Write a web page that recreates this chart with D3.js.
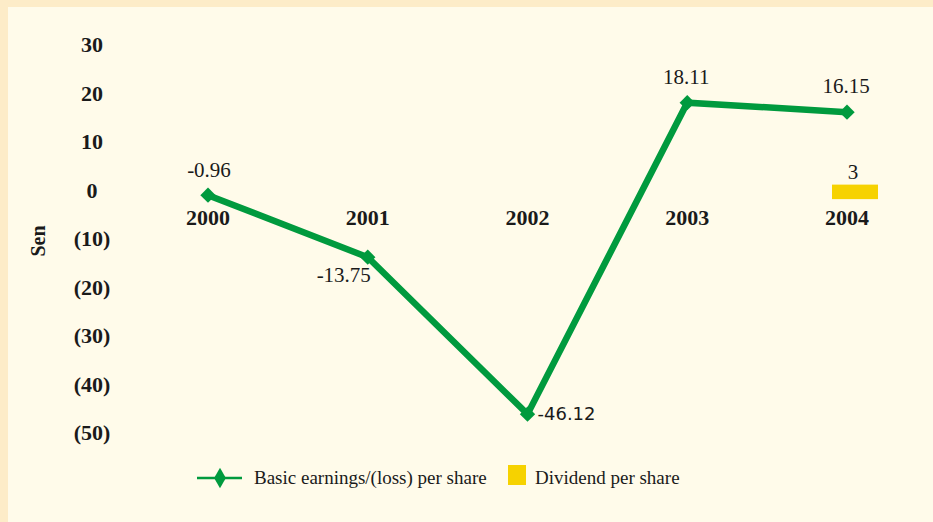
<!DOCTYPE html>
<html>
<head>
<meta charset="utf-8">
<script src="https://cdn.jsdelivr.net/npm/d3@7"></script>
<style>
  body { margin: 0; background: #fffbea; }
  text { font-family: "Liberation Serif", "DejaVu Serif", serif; fill: #1a1a1a; }
</style>
</head>
<body>
<div id="chart"></div>
<script>
const years = ["2000", "2001", "2002", "2003", "2004"];
const earnings = [-0.96, -13.75, -46.12, 18.11, 16.15];
const dividend = [null, null, null, null, 3];
const yTicks = [30, 20, 10, 0, -10, -20, -30, -40, -50];

const width = 933, height = 522;

const svg = d3.select("#chart")
    .append("svg")
    .attr("width", width)
    .attr("height", height);

// page background with the pale border on top and left
svg.append("rect").attr("width", width).attr("height", height).attr("fill", "#fdecc8");
svg.append("rect").attr("x", 8).attr("y", 7).attr("width", width - 8).attr("height", height - 7).attr("fill", "#fffbea");

const x = d3.scalePoint()
    .domain(years)
    .range([208, 847]);

const y = d3.scaleLinear()
    .domain([-50, 30])
    .range([433, 45]);

// dividend bar sits on its own baseline, a little under the line's zero
const yBar = d3.scaleLinear()
    .domain([-50, 30])
    .range([441, 54]);

// y tick labels, negatives in brackets
svg.append("g")
    .selectAll("text")
    .data(yTicks)
    .join("text")
    .attr("x", 92)
    .attr("y", d => y(d))
    .attr("dy", "0.33em")
    .attr("text-anchor", "middle")
    .style("font-size", "22px")
    .style("font-weight", "bold")
    .text(d => d < 0 ? `(${-d})` : d);

svg.append("text")
    .attr("transform", "translate(45,241) rotate(-90)")
    .attr("text-anchor", "middle")
    .style("font-size", "20px")
    .style("font-weight", "bold")
    .text("Sen");

// category labels just under zero
svg.append("g")
    .selectAll("text")
    .data(years)
    .join("text")
    .attr("x", d => x(d))
    .attr("y", y(0) + 27)
    .attr("dy", "0.33em")
    .attr("text-anchor", "middle")
    .style("font-size", "22px")
    .style("font-weight", "bold")
    .text(d => d);

// dividend bar
const divData = years.map((yr, i) => ({ year: yr, v: dividend[i] })).filter(d => d.v != null);
svg.selectAll(".bar")
    .data(divData)
    .join("rect")
    .attr("class", "bar")
    .attr("x", d => x(d.year) - 15)
    .attr("y", d => yBar(d.v))
    .attr("width", 46)
    .attr("height", d => yBar(0) - yBar(d.v))
    .attr("fill", "#f6d200");

svg.selectAll(".barlabel")
    .data(divData)
    .join("text")
    .attr("class", "barlabel")
    .attr("x", d => x(d.year) + 6)
    .attr("y", d => yBar(d.v) - 13)
    .attr("dy", "0.33em")
    .attr("text-anchor", "middle")
    .style("font-size", "21px")
    .text(d => d.v);

// earnings line
const pts = years.map((yr, i) => ({ year: yr, v: earnings[i] }));
const green = "#009a3e";

svg.append("path")
    .datum(pts)
    .attr("fill", "none")
    .attr("stroke", green)
    .attr("stroke-width", 6.5)
    .attr("stroke-linejoin", "miter")
    .attr("d", d3.line().x(d => x(d.year)).y(d => y(d.v)));

const diamond = d3.symbol().type(d3.symbolDiamond2).size(150);
svg.selectAll(".pt")
    .data(pts)
    .join("path")
    .attr("class", "pt")
    .attr("transform", d => `translate(${x(d.year)},${y(d.v)})`)
    .attr("d", diamond)
    .attr("fill", green);

// point labels, placed like the original
const labelPos = [
    { dx: 1, dy: -25, anchor: "middle", sans: false },
    { dx: -24, dy: 18, anchor: "middle", sans: false },
    { dx: 10, dy: 0, anchor: "start", sans: true },
    { dx: -1, dy: -26, anchor: "middle", sans: false },
    { dx: -1, dy: -26, anchor: "middle", sans: false }
];
svg.selectAll(".ptlabel")
    .data(pts)
    .join("text")
    .attr("class", "ptlabel")
    .attr("x", (d, i) => x(d.year) + labelPos[i].dx)
    .attr("y", (d, i) => y(d.v) + labelPos[i].dy)
    .attr("dy", "0.33em")
    .attr("text-anchor", (d, i) => labelPos[i].anchor)
    .style("font-family", (d, i) => labelPos[i].sans ? "'DejaVu Sans', sans-serif" : null)
    .style("font-size", (d, i) => labelPos[i].sans ? "18px" : "21px")
    .text(d => d.v.toFixed(2));

// legend
const legend = svg.append("g").attr("transform", "translate(197,478)");
legend.append("line")
    .attr("x1", 0).attr("x2", 45)
    .attr("stroke", green).attr("stroke-width", 2.7);
legend.append("path")
    .attr("transform", "translate(23,0)")
    .attr("d", d3.symbol().type(d3.symbolDiamond).size(120))
    .attr("fill", green);
legend.append("text")
    .attr("x", 57)
    .attr("dy", "0.33em")
    .style("font-size", "19px")
    .text("Basic earnings/(loss) per share");
legend.append("rect")
    .attr("x", 311).attr("y", -13)
    .attr("width", 18).attr("height", 20)
    .attr("fill", "#f6d200");
legend.append("text")
    .attr("x", 338)
    .attr("dy", "0.33em")
    .style("font-size", "19px")
    .text("Dividend per share");
</script>
</body>
</html>
